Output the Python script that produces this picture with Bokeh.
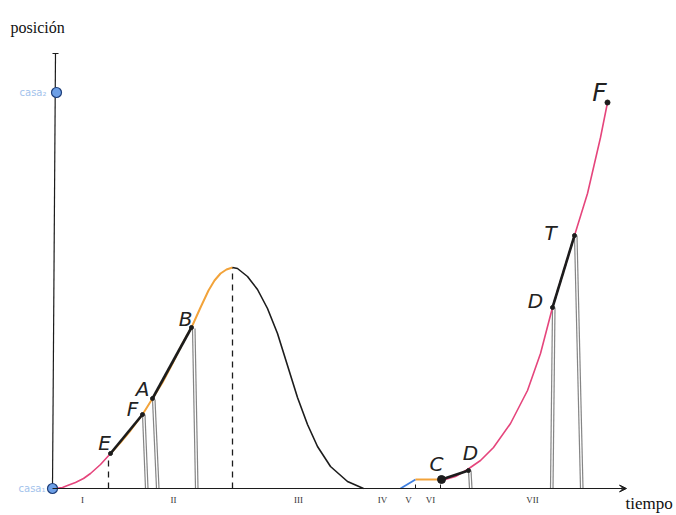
from bokeh.plotting import figure
from bokeh.models import Range1d, Arrow, VeeHead
from bokeh.core.properties import value
from bokeh.embed import file_html
from bokeh.resources import INLINE

# ---- data (time, position) ----
pink1_x = [0, 8, 13, 21, 29, 36, 46, 56]
pink1_y = [0, 1, 3, 6, 10, 15, 24, 35]

orange1_x = [56, 66, 76, 88, 98, 108, 118, 128, 137, 146, 154, 160, 166, 172, 178]
orange1_y = [35, 46, 58, 74, 90, 106, 125, 145, 161, 181, 198, 208, 215, 219, 221]

black1_x = [178, 183, 193, 203, 213, 223, 233, 243, 253, 263, 276, 293, 309]
black1_y = [221, 220, 212, 199, 180, 155, 123, 91, 64, 42, 22, 7, 0]

blue_x = [346, 361]
blue_y = [0, 9]

orange2_x = [361, 386]
orange2_y = [9, 9]

pink2_x = [387, 401, 413, 426, 439, 456, 473, 486, 492, 498, 509, 520, 533, 546, 553]
pink2_y = [8, 12, 19, 28, 41, 65, 98, 135, 158, 181, 217, 253, 295, 351, 386]

# secant segments (start/end)
sec_x0 = [56, 98, 387, 498]
sec_y0 = [35, 90, 9, 181]
sec_x1 = [88, 137, 414, 520]
sec_y1 = [74, 161, 18, 253]

# vertical drop lines (top -> axis)
drop_x0 = [88, 98, 138, 414, 498, 520]
drop_y0 = [74, 89, 160, 18, 181, 253]
drop_x1 = [91, 102, 141, 415, 496, 526]

# dashed guides
dash_x = [54, 178]
dash_y = [33, 221]

# point labels
pt_labels = ["E", "F", "A", "B", "C", "D", "D", "T"]
pt_lx = [50, 78, 88, 131, 382, 416, 481, 496]
pt_ly = [46, 80, 100, 170, 25, 36, 188, 256]
end_label = "F"
end_lx, end_ly = 545, 396
end_px, end_py = 553, 386

# interval labels
intervals = ["I", "II", "III", "IV", "V", "VI", "VII"]
interval_x = [28, 119, 244, 328, 354, 376, 478]

# houses on the position axis
casa_labels = ["casa\u2081", "casa\u2082"]
casa_y = [0, 396]

# ---- figure ----
p = figure(width=676, height=515, output_backend="svg", toolbar_location=None,
           x_range=Range1d(-54, 622), y_range=Range1d(-27, 488),
           x_axis_location=None, y_axis_location=None, min_border=0)
p.xgrid.visible = False
p.ygrid.visible = False
p.outline_line_color = None
p.background_fill_color = "white"

PINK = "#e5457c"
ORANGE = "#f2a33a"
BLUE = "#3f7fe0"
INK = "#1c1c1c"
GRAY = "#858585"

# axes drawn as lines
p.add_layout(Arrow(end=VeeHead(size=7, line_color=INK, fill_color=INK, line_width=1),
                   x_start=-2, y_start=0, x_end=572, y_end=0,
                   line_color=INK, line_width=1.2))
p.segment(x0=[-2], y0=[0], x1=[1], y1=[435], line_color=INK, line_width=1.2)
p.segment(x0=[-2], y0=[435], x1=[4], y1=[435], line_color=INK, line_width=1)
# small tick marks
p.segment(x0=[361, 386], y0=[0, 0], x1=[361, 386], y1=[4, 4], line_color=INK, line_width=1)

# dashed guides
p.segment(x0=dash_x, y0=[0, 0], x1=dash_x, y1=dash_y, line_color=INK,
          line_width=1.3, line_dash="6 5")

# drop lines (double pencil lines)
p.segment(x0=drop_x0, y0=drop_y0, x1=drop_x1, y1=[0]*len(drop_x0),
          line_color=GRAY, line_width=1.2)
p.segment(x0=[x + 2.5 for x in drop_x0], y0=drop_y0,
          x1=[x + 2.5 for x in drop_x1], y1=[0]*len(drop_x0),
          line_color=GRAY, line_width=1.2)

# curves
p.line(pink1_x, pink1_y, line_color=PINK, line_width=1.6)
p.line(orange1_x, orange1_y, line_color=ORANGE, line_width=2)
p.line(black1_x, black1_y, line_color=INK, line_width=1.6)
p.line(blue_x, blue_y, line_color=BLUE, line_width=1.8)
p.line(orange2_x, orange2_y, line_color=ORANGE, line_width=2)
p.line(pink2_x, pink2_y, line_color=PINK, line_width=1.6)

# secants
p.segment(x0=sec_x0, y0=sec_y0, x1=sec_x1, y1=sec_y1, line_color=INK, line_width=2.6)
p.scatter(x=sec_x0 + sec_x1, y=sec_y0 + sec_y1, size=4, color=INK)
p.scatter(x=[sec_x0[2]], y=[sec_y0[2]], size=8, color=INK)
p.scatter(x=[end_px], y=[end_py], size=5, color=INK)

# houses
p.scatter(x=[-2, 2], y=casa_y, size=10, fill_color="#6d9fe6", line_color="#1f3f7a",
          line_width=1.2)
p.text(x=[-9, -8], y=casa_y, text=casa_labels, text_align="right",
       text_baseline="middle", text_color="#a3c3ec", text_font_size="10px",
       text_font=value("DejaVu Sans"))

# point labels (handwritten style)
p.text(x=pt_lx, y=pt_ly, text=pt_labels, text_align="center", text_baseline="middle",
       text_font_size="20px", text_font_style="italic", text_color="#222222",
       text_font=value("DejaVu Sans"))
p.text(x=[end_lx], y=[end_ly], text=[end_label], text_align="center",
       text_baseline="middle", text_font_size="25px", text_font_style="italic",
       text_color="#222222", text_font=value("DejaVu Sans"))

# interval labels
p.text(x=interval_x, y=[-11]*len(intervals), text=intervals, text_align="center",
       text_baseline="middle", text_font_size="9px", text_color="#333333",
       text_font=value("Liberation Serif"))

# axis titles
p.text(x=[-44], y=[461], text=["posición"], text_align="left",
       text_baseline="alphabetic", text_font_size="16px", text_color="#111111",
       text_font=value("Liberation Serif"))
p.text(x=[571], y=[-15], text=["tiempo"], text_align="left",
       text_baseline="alphabetic", text_font_size="17px", text_color="#111111",
       text_font=value("Liberation Serif"))

open("out.html", "w").write(file_html(p, INLINE))
